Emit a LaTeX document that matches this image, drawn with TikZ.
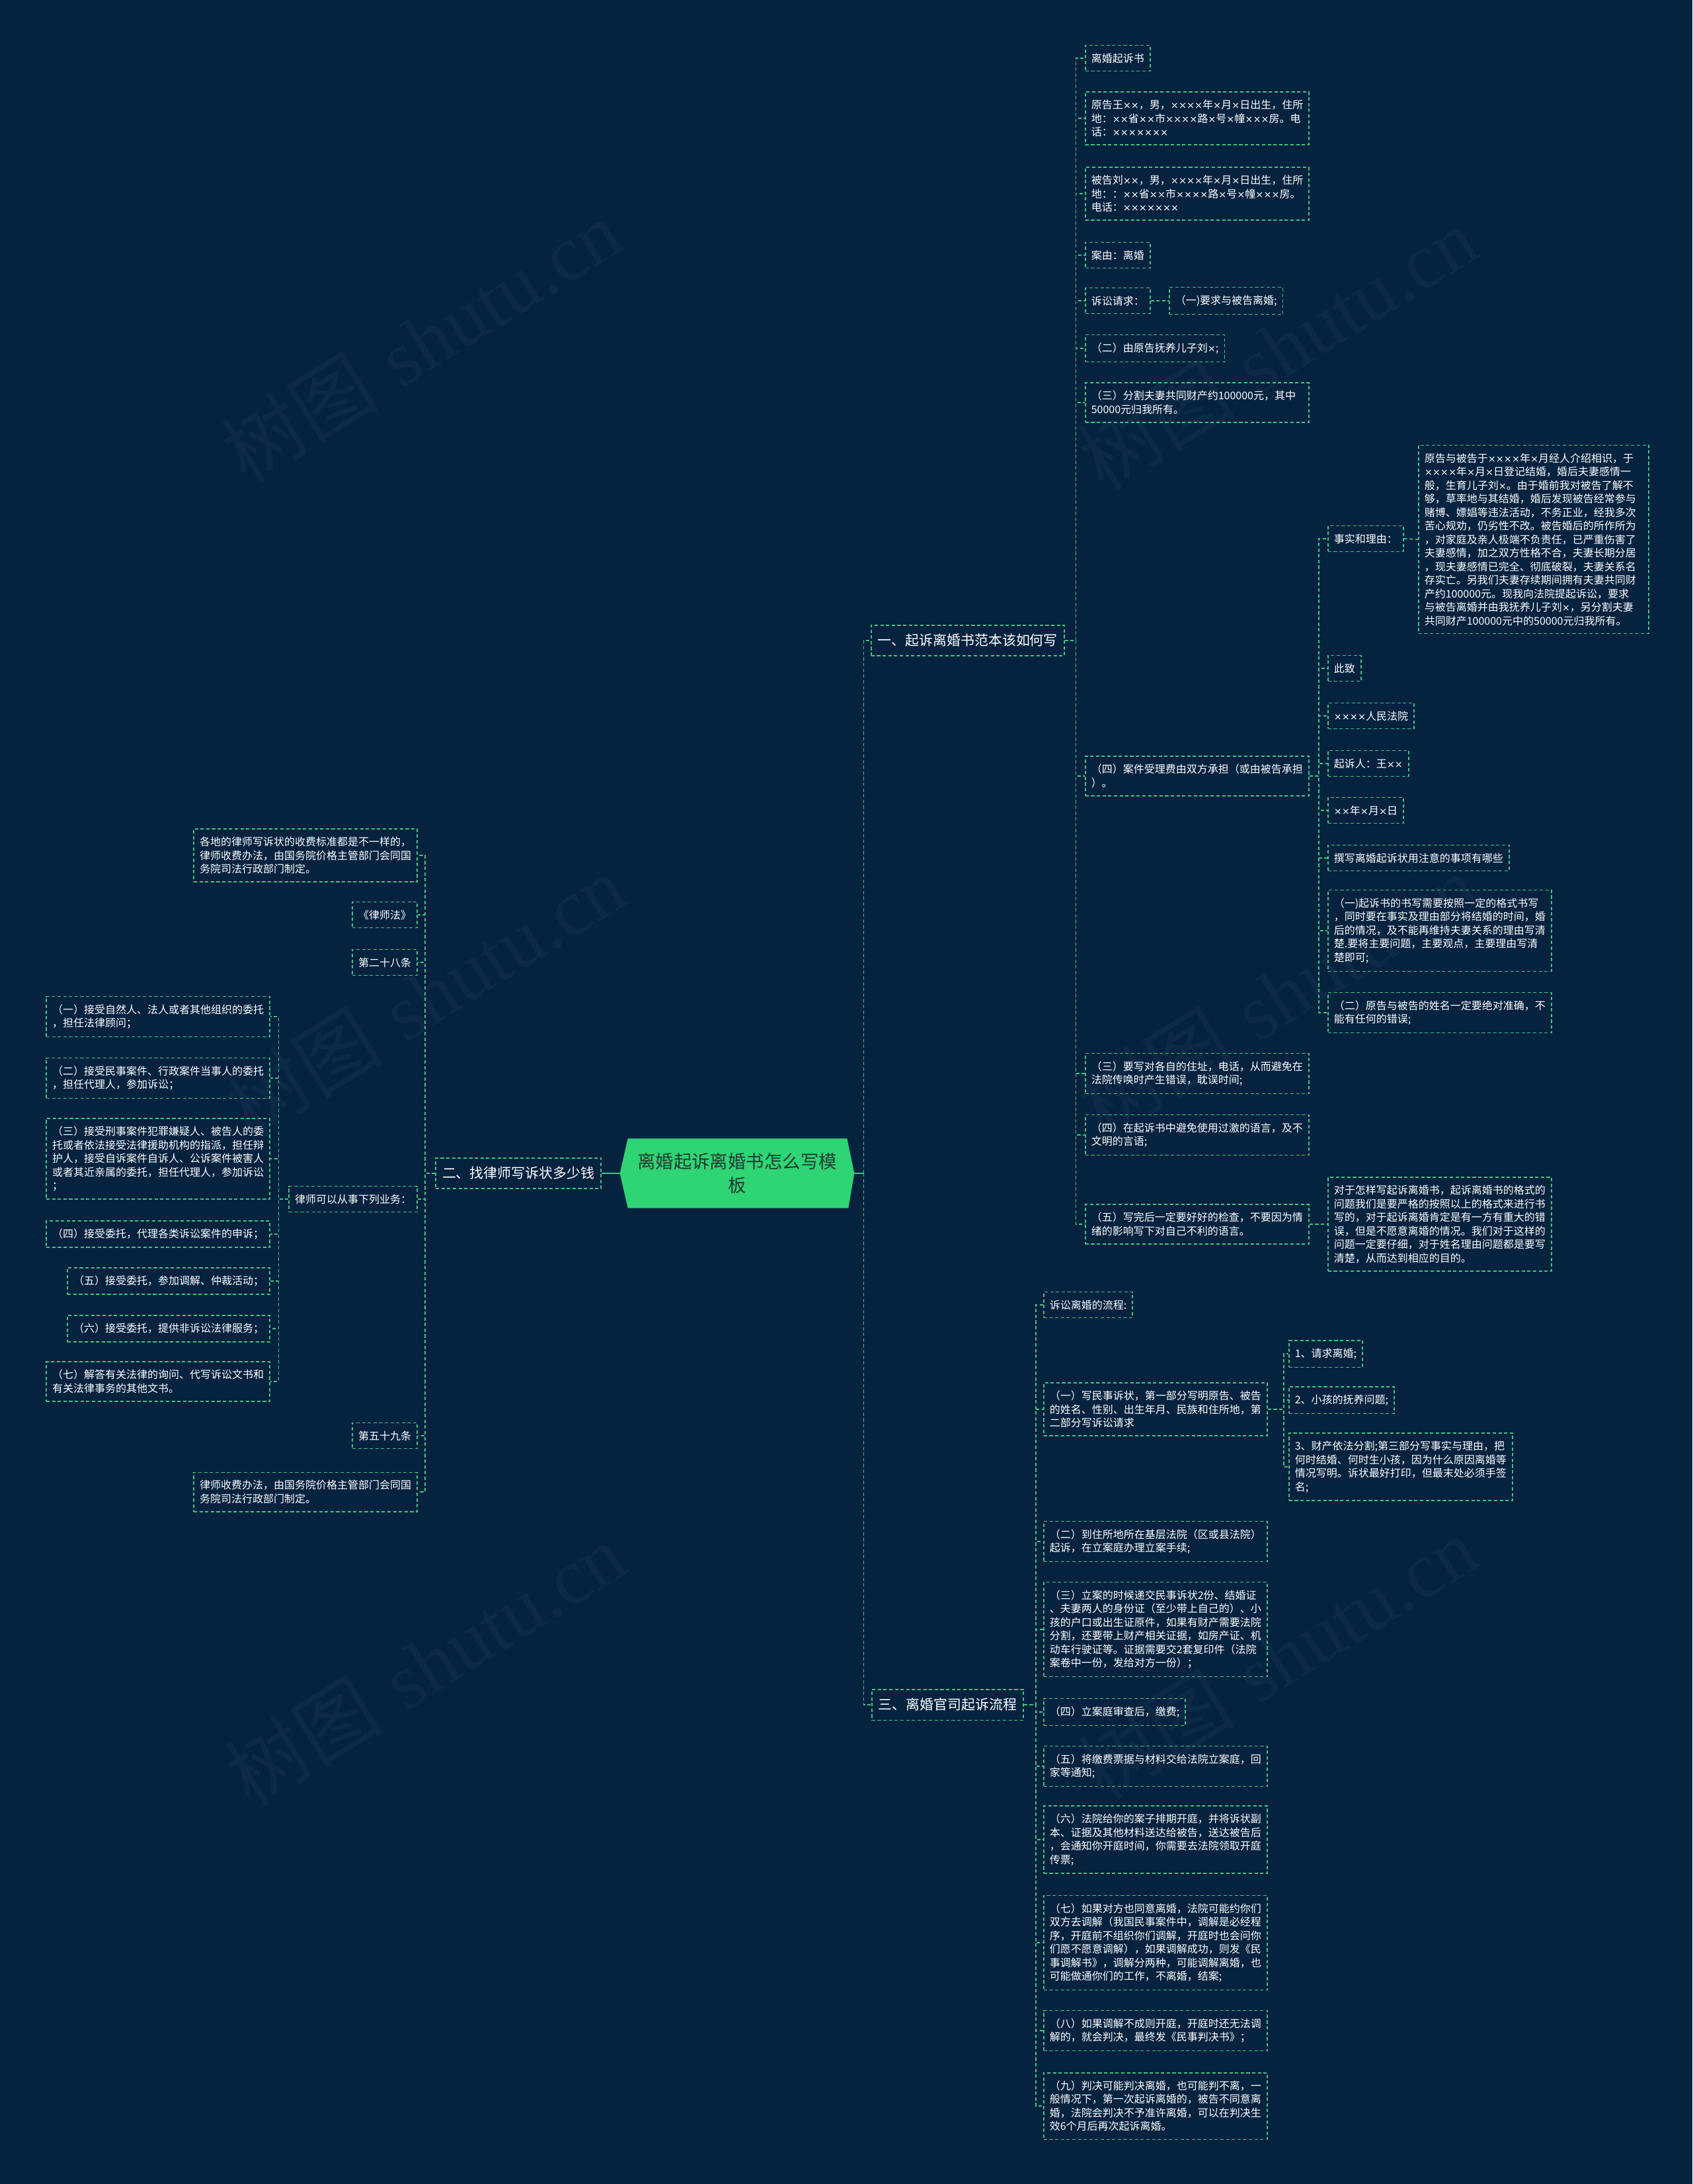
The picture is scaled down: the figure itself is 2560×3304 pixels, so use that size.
\documentclass[tikz,border=0pt]{standalone}
\usepackage{fontspec}
\usepackage{newunicodechar}
\newfontfamily\cjkf{Noto Sans CJK SC}
\newfontfamily\wmserif{Liberation Serif}
\newfontfamily\xf{DejaVu Sans}[Scale=0.9]
\newunicodechar{×}{{\xf\char"00D7}}
\usetikzlibrary{backgrounds}
\definecolor{bgc}{HTML}{05223F}
\definecolor{lg}{HTML}{3DC480}
\definecolor{rootg}{HTML}{2FD475}
\definecolor{roott}{HTML}{1E3B30}
\tikzset{
  dsh/.style={draw=lg, line width=0.45pt, dash pattern=on 1.45pt off 1pt},
  leaf/.style={dsh, font=\cjkf\fontsize{4.55pt}{5.83pt}\selectfont, text=white, inner xsep=0.09cm, inner ysep=0.12cm, align=left},
  wide/.style={leaf, text width=3.2cm},
  widest/.style={leaf, text width=3.3cm},
  branch/.style={dsh, font=\cjkf\fontsize{5.95pt}{7pt}\selectfont, text=white, inner xsep=0.1cm, inner ysep=0.135cm},
  conn/.style={dsh},
  rootline/.style={draw=lg, line width=0.6pt},
  rootbox/.style={font=\cjkf\fontsize{7.8pt}{10.5pt}\selectfont, text=roott, align=center, minimum width=3.53cm, minimum height=1.04cm, inner sep=0pt},
  wm/.style={text=white, text opacity=0.035, font=\fontsize{34pt}{36pt}\selectfont, rotate=32, inner sep=0pt}
}
\begin{document}
\begin{tikzpicture}[x=0.01cm, y=-0.01cm]
\useasboundingbox (0,0) rectangle (2560,3304);
\begin{scope}[on background layer]
\fill[bgc] (0,0) rectangle (2560,3304);
\end{scope}

% watermarks
\node[wm] (wm1) at (637,516) {{\cjkf 树图} {\wmserif shutu.cn}};
\node[wm] (wm2) at (643,1506) {{\cjkf 树图} {\wmserif shutu.cn}};
\node[wm] (wm3) at (643,2518) {{\cjkf 树图} {\wmserif shutu.cn}};
\node[wm] (wm4) at (1932,527) {{\cjkf 树图} {\wmserif shutu.cn}};
\node[wm] (wm5) at (1932,1506) {{\cjkf 树图} {\wmserif shutu.cn}};
\node[wm] (wm6) at (1932,2508) {{\cjkf 树图} {\wmserif shutu.cn}};

% root
\node[rootbox] (root) at (1115,1775) {离婚起诉离婚书怎么写模\\板};
\begin{scope}[on background layer]
\fill[rootg] ([xshift=0.12cm]root.north west) -- ([xshift=-0.11cm]root.north east) -- (root.east) -- ([xshift=-0.09cm]root.south east) -- ([xshift=0.12cm]root.south west) -- (root.west) -- cycle;
\end{scope}

% branches
\node[branch, anchor=west] (b1) at (1317,969) {一、起诉离婚书范本该如何写};
\node[branch, anchor=east] (b2) at (910,1775) {二、找律师写诉状多少钱};
\node[branch, anchor=west] (b3) at (1318,2579) {三、离婚官司起诉流程};

% branch 1 children
\node[leaf, anchor=west] (a1) at (1641,88) {离婚起诉书};
\node[wide, anchor=west] (a2) at (1641,179) {原告王××，男，××××年×月×日出生，住所\\地：××省××市××××路×号×幢×××房。电\\话：×××××××};
\node[wide, anchor=west] (a3) at (1641,293) {被告刘××，男，××××年×月×日出生，住所\\地：：××省××市××××路×号×幢×××房。\\电话：×××××××};
\node[leaf, anchor=west] (a4) at (1641,386) {案由：离婚};
\node[leaf, anchor=west] (a5) at (1641,455) {诉讼请求：};
\node[leaf, anchor=west] (a5c) at (1768,455) {（一)要求与被告离婚;};
\node[leaf, anchor=west] (a6) at (1641,527) {（二）由原告抚养儿子刘×;};
\node[wide, anchor=west] (a7) at (1641,609) {（三）分割夫妻共同财产约100000元，其中\\50000元归我所有。};
\node[wide, anchor=west] (a8) at (1641,1174) {（四）案件受理费由双方承担（或由被告承担\\）。};
\node[wide, anchor=west] (a9) at (1641,1624) {（三）要写对各自的住址，电话，从而避免在\\法院传唤时产生错误，耽误时间;};
\node[wide, anchor=west] (a10) at (1641,1717) {（四）在起诉书中避免使用过激的语言，及不\\文明的言语;};
\node[wide, anchor=west] (a11) at (1641,1852) {（五）写完后一定要好好的检查，不要因为情\\绪的影响写下对自己不利的语言。};
\node[wide, anchor=west] (a11c) at (2008,1852) {对于怎样写起诉离婚书，起诉离婚书的格式的\\问题我们是要严格的按照以上的格式来进行书\\写的，对于起诉离婚肯定是有一方有重大的错\\误，但是不愿意离婚的情况。我们对于这样的\\问题一定要仔细，对于姓名理由问题都是要写\\清楚，从而达到相应的目的。};

% (四) children
\node[leaf, anchor=west] (d1) at (2008,815) {事实和理由：};
\node[widest, anchor=west] (d1c) at (2145,816) {原告与被告于××××年×月经人介绍相识，于\\××××年×月×日登记结婚，婚后夫妻感情一\\般，生育儿子刘×。由于婚前我对被告了解不\\够，草率地与其结婚，婚后发现被告经常参与\\赌博、嫖娼等违法活动，不务正业，经我多次\\苦心规劝，仍劣性不改。被告婚后的所作所为\\，对家庭及亲人极端不负责任，已严重伤害了\\夫妻感情，加之双方性格不合，夫妻长期分居\\，现夫妻感情已完全、彻底破裂，夫妻关系名\\存实亡。另我们夫妻存续期间拥有夫妻共同财\\产约100000元。现我向法院提起诉讼，要求\\与被告离婚并由我抚养儿子刘×，另分割夫妻\\共同财产100000元中的50000元归我所有。};
\node[leaf, anchor=west] (d2) at (2008,1011) {此致};
\node[leaf, anchor=west] (d3) at (2008,1083) {××××人民法院};
\node[leaf, anchor=west] (d4) at (2008,1155) {起诉人：王××};
\node[leaf, anchor=west] (d5) at (2008,1226) {××年×月×日};
\node[leaf, anchor=west] (d6) at (2008,1298) {撰写离婚起诉状用注意的事项有哪些};
\node[wide, anchor=west] (d7) at (2008,1408) {（一)起诉书的书写需要按照一定的格式书写\\，同时要在事实及理由部分将结婚的时间，婚\\后的情况，及不能再维持夫妻关系的理由写清\\楚.要将主要问题，主要观点，主要理由写清\\楚即可;};
\node[wide, anchor=west] (d8) at (2008,1532) {（二）原告与被告的姓名一定要绝对准确，不\\能有任何的错误;};

% branch 3 children
\node[leaf, anchor=west] (c1) at (1578,1974) {诉讼离婚的流程:};
\node[wide, anchor=west] (c2) at (1578,2132) {（一）写民事诉状，第一部分写明原告、被告\\的姓名、性别、出生年月、民族和住所地，第\\二部分写诉讼请求};
\node[leaf, anchor=west] (e1) at (1949,2048) {1、请求离婚;};
\node[leaf, anchor=west] (e2) at (1949,2118) {2、小孩的抚养问题;};
\node[wide, anchor=west] (e3) at (1949,2219) {3、财产依法分割;第三部分写事实与理由，把\\何时结婚、何时生小孩，因为什么原因离婚等\\情况写明。诉状最好打印，但最末处必须手签\\名;};
\node[wide, anchor=west] (c3) at (1578,2332) {（二）到住所地所在基层法院（区或县法院）\\起诉，在立案庭办理立案手续;};
\node[wide, anchor=west] (c4) at (1578,2465) {（三）立案的时候递交民事诉状2份、结婚证\\、夫妻两人的身份证（至少带上自己的）、小\\孩的户口或出生证原件，如果有财产需要法院\\分割，还要带上财产相关证据，如房产证、机\\动车行驶证等。证据需要交2套复印件（法院\\案卷中一份，发给对方一份）；};
\node[leaf, anchor=west] (c5) at (1578,2590) {（四）立案庭审查后，缴费;};
\node[wide, anchor=west] (c6) at (1578,2672) {（五）将缴费票据与材料交给法院立案庭，回\\家等通知;};
\node[wide, anchor=west] (c7) at (1578,2783) {（六）法院给你的案子排期开庭，并将诉状副\\本、证据及其他材料送达给被告，送达被告后\\，会通知你开庭时间，你需要去法院领取开庭\\传票;};
\node[wide, anchor=west] (c8) at (1578,2939) {（七）如果对方也同意离婚，法院可能约你们\\双方去调解（我国民事案件中，调解是必经程\\序，开庭前不组织你们调解，开庭时也会问你\\们愿不愿意调解），如果调解成功，则发《民\\事调解书》，调解分两种，可能调解离婚，也\\可能做通你们的工作，不离婚，结案;};
\node[wide, anchor=west] (c9) at (1578,3072) {（八）如果调解不成则开庭，开庭时还无法调\\解的，就会判决，最终发《民事判决书》；};
\node[wide, anchor=west] (c10) at (1578,3186) {（九）判决可能判决离婚，也可能判不离，一\\般情况下，第一次起诉离婚的，被告不同意离\\婚，法院会判决不予准许离婚，可以在判决生\\效6个月后再次起诉离婚。};

% branch 2 children
\node[wide, anchor=east] (l1) at (632,1294) {各地的律师写诉状的收费标准都是不一样的，\\律师收费办法，由国务院价格主管部门会同国\\务院司法行政部门制定。};
\node[leaf, anchor=east] (l2) at (632,1384) {《律师法》};
\node[leaf, anchor=east] (l3) at (632,1456) {第二十八条};
\node[leaf, anchor=east] (l4) at (632,1814) {律师可以从事下列业务：};
\node[leaf, anchor=east] (l5) at (632,2172) {第五十九条};
\node[wide, anchor=east] (l6) at (632,2257) {律师收费办法，由国务院价格主管部门会同国\\务院司法行政部门制定。};
\node[wide, anchor=east] (m1) at (409,1538) {（一）接受自然人、法人或者其他组织的委托\\，担任法律顾问；};
\node[wide, anchor=east] (m2) at (409,1631) {（二）接受民事案件、行政案件当事人的委托\\，担任代理人，参加诉讼；};
\node[wide, anchor=east] (m3) at (409,1753) {（三）接受刑事案件犯罪嫌疑人、被告人的委\\托或者依法接受法律援助机构的指派，担任辩\\护人，接受自诉案件自诉人、公诉案件被害人\\或者其近亲属的委托，担任代理人，参加诉讼\\；};
\node[leaf, anchor=east] (m4) at (409,1867) {（四）接受委托，代理各类诉讼案件的申诉；};
\node[leaf, anchor=east] (m5) at (409,1938) {（五）接受委托，参加调解、仲裁活动；};
\node[leaf, anchor=east] (m6) at (409,2010) {（六）接受委托，提供非诉讼法律服务；};
\node[wide, anchor=east] (m7) at (409,2090) {（七）解答有关法律的询问、代写诉讼文书和\\有关法律事务的其他文书。};

% connectors: root
\draw[rootline] (root.east) -- ++(14,0);
\draw[rootline] (root.west) -- (b2.east);
\draw[conn] (root.east) ++(14,0) |- (b1.west);
\draw[conn] (root.east) ++(14,0) |- (b3.west);

% branch 1
\foreach \c in {a1,a2,a3,a4,a5,a6,a7,a8,a9,a10,a11}
  \draw[conn] (b1.east) -- ++(17,0) |- (\c.west);
\draw[conn] (a5.east) -- (a5c.west);
\draw[conn] (a11.east) -- (a11c.west);
\foreach \c in {d1,d2,d3,d4,d5,d6,d7,d8}
  \draw[conn] (a8.east) -- ++(14,0) |- (\c.west);
\draw[conn] (d1.east) -- (d1c.west);

% branch 3
\foreach \c in {c1,c2,c3,c4,c5,c6,c7,c8,c9,c10}
  \draw[conn] (b3.east) -- ++(18,0) |- (\c.west);
\foreach \c in {e1,e2,e3}
  \draw[conn] (c2.east) -- ++(24,0) |- (\c.west);

% branch 2
\foreach \c in {l1,l2,l3,l4,l5,l6}
  \draw[conn] (b2.west) -- ++(-15,0) |- (\c.east);
\foreach \c in {m1,m2,m3,m4,m5,m6,m7}
  \draw[conn] (l4.west) -- ++(-15,0) |- (\c.east);
\end{tikzpicture}
\end{document}
